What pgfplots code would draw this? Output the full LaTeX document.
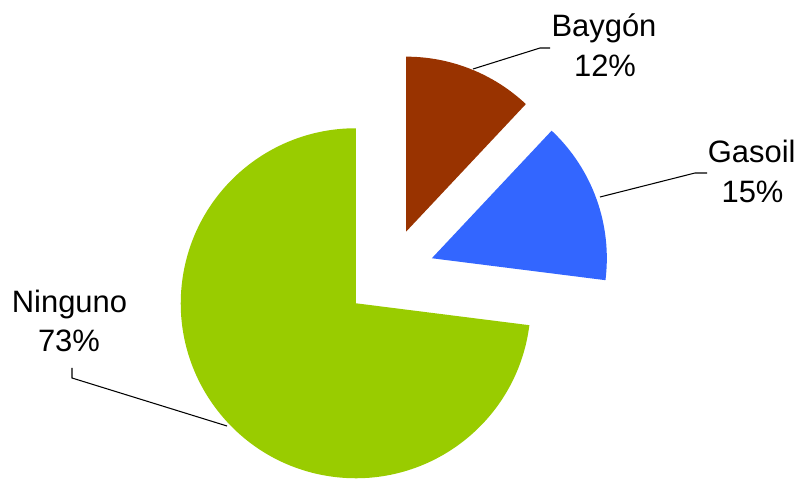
\documentclass[border=0pt]{standalone}
\usepackage{fontspec}
\setmainfont{Liberation Sans}
\usepackage{pgfplots}
\pgfplotsset{compat=1.18}

\definecolor{bayg}{RGB}{153,51,0}
\definecolor{gas}{RGB}{51,102,255}
\definecolor{ning}{RGB}{153,204,0}

% pie geometry, in pixel units of the axis (1 unit = 0.02cm)
\def\cx{389.5}\def\cy{205.5}\def\off{45}\def\R{3.5cm}
% shares in percent, clockwise from 12 o'clock
\def\pB{12}\def\pG{15}\def\pN{73}

\pgfmathsetmacro\bS{90}
\pgfmathsetmacro\bE{\bS-3.6*\pB}
\pgfmathsetmacro\bX{\cx+\off*cos((\bS+\bE)/2)}
\pgfmathsetmacro\bY{\cy+\off*sin((\bS+\bE)/2)}
\pgfmathsetmacro\gS{\bE}
\pgfmathsetmacro\gE{\gS-3.6*\pG}
\pgfmathsetmacro\gX{\cx+\off*cos((\gS+\gE)/2)}
\pgfmathsetmacro\gY{\cy+\off*sin((\gS+\gE)/2)}
\pgfmathsetmacro\nS{\gE}
\pgfmathsetmacro\nE{\nS-3.6*\pN}
\pgfmathsetmacro\nX{\cx+\off*cos((\nS+\nE)/2)}
\pgfmathsetmacro\nY{\cy+\off*sin((\nS+\nE)/2)}

\begin{document}
\begin{tikzpicture}
\useasboundingbox (0,0) rectangle (15.98cm,9.58cm);
\begin{axis}[
    at={(0,0)}, anchor=south west,
    scale only axis, width=15.98cm, height=9.58cm,
    xmin=0, xmax=799, ymin=0, ymax=479,
    hide axis, clip=false,
  ]
  \fill[bayg] (axis cs:\bX,\bY) -- ++(\bS:\R) arc[start angle=\bS, end angle=\bE, radius=\R] -- cycle;
  \fill[gas]  (axis cs:\gX,\gY) -- ++(\gS:\R) arc[start angle=\gS, end angle=\gE, radius=\R] -- cycle;
  \fill[ning] (axis cs:\nX,\nY) -- ++(\nS:\R) arc[start angle=\nS, end angle=\nE, radius=\R] -- cycle;

  % leader lines
  \draw[black, line width=0.6pt] (axis cs:473,410) -- (axis cs:540,431) -- (axis cs:550,431);
  \draw[black, line width=0.6pt] (axis cs:600,282) -- (axis cs:695,306) -- (axis cs:707,306);
  \draw[black, line width=0.6pt] (axis cs:227,53) -- (axis cs:72,101) -- (axis cs:72,111);

  % labels
  \tikzset{lbl/.style={anchor=base, inner sep=0pt, font=\fontsize{17.6}{21}\selectfont}}
  \node[lbl] at (axis cs:604,442.3) {Baygón};
  \node[lbl] at (axis cs:605,402.3) {12\%};
  \node[lbl] at (axis cs:751.7,316) {Gasoil};
  \node[lbl] at (axis cs:752.5,276) {15\%};
  \node[lbl] at (axis cs:69.5,166) {Ninguno};
  \node[lbl] at (axis cs:69,127) {73\%};
\end{axis}
\end{tikzpicture}
\end{document}
